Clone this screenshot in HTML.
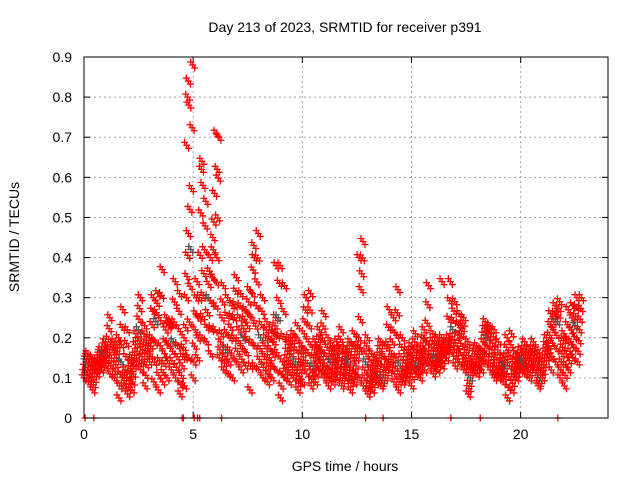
<!DOCTYPE html>
<html><head><meta charset="utf-8"><style>
body{margin:0;background:#fff}
svg{display:block;font-family:"Liberation Sans",Arial,sans-serif}
</style></head><body>
<svg id="chart" width="640" height="480" viewBox="0 0 640 480">
<rect width="640" height="480" fill="#fff"/>
<text x="345" y="32" text-anchor="middle" font-size="14" fill="#000">Day 213 of 2023, SRMTID for receiver p391</text>
<text transform="translate(19,237) rotate(-90)" text-anchor="middle" font-size="14">SRMTID / TECUs</text>
<text x="345" y="471" text-anchor="middle" font-size="14">GPS time / hours</text>
<g id="grid"></g>
<g id="axes"></g>
<g id="marks"></g>
<rect x="84" y="57" width="524" height="361" fill="none" stroke="#000" stroke-width="1"/>
</svg>
<script>
const bucketTimes=[0,0.2,0.4,0.6,0.8,1,1.2,1.4,1.6,1.8,2,2.2,2.4,2.6,2.8,3,3.2,3.4,3.6,3.8,4,4.2,4.4,4.6,4.8,5,5.2,5.4,5.6,5.8,6,6.2,6.4,6.6,6.8,7,7.2,7.4,7.6,7.8,8,8.2,8.4,8.6,8.8,9,9.2,9.4,9.6,9.8,10,10.2,10.4,10.6,10.8,11,11.2,11.4,11.6,11.8,12,12.2,12.4,12.6,12.8,13,13.2,13.4,13.6,13.8,14,14.2,14.4,14.6,14.8,15,15.2,15.4,15.6,15.8,16,16.2,16.4,16.6,16.8,17,17.2,17.4,17.6,17.8,18,18.2,18.4,18.6,18.8,19,19.2,19.4,19.6,19.8,20,20.2,20.4,20.6,20.8,21,21.2,21.4,21.6,21.8,22,22.2,22.4,22.6];
const lowValues=[.10,.09,.07,.11,.12,.13,.11,.10,.05,.08,.06,.07,.14,.12,.08,.14,.09,.07,.09,.10,.12,.10,.06,.08,.15,.10,.15,.20,.19,.16,.22,.15,.12,.11,.10,.14,.12,.13,.07,.13,.12,.10,.09,.10,.12,.05,.10,.09,.10,.07,.09,.11,.08,.09,.12,.10,.08,.09,.10,.08,.10,.07,.09,.10,.08,.06,.07,.09,.08,.10,.12,.09,.07,.09,.10,.08,.11,.10,.12,.13,.11,.12,.13,.15,.17,.13,.14,.12,.06,.12,.11,.12,.14,.12,.10,.10,.09,.05,.07,.10,.12,.11,.10,.12,.08,.10,.15,.12,.14,.10,.08,.12,.15,.14];
const midValues=[.14,.12,.11,.15,.16,.17,.17,.15,.14,.12,.11,.13,.22,.17,.16,.20,.24,.18,.16,.23,.19,.18,.13,.30,.42,.22,.30,.36,.30,.35,.40,.21,.17,.20,.25,.22,.20,.23,.25,.28,.20,.18,.15,.19,.25,.14,.15,.16,.14,.12,.21,.19,.13,.15,.17,.13,.14,.13,.15,.12,.14,.12,.15,.32,.14,.10,.11,.14,.10,.14,.16,.15,.13,.12,.13,.15,.13,.16,.19,.16,.15,.16,.17,.20,.22,.18,.21,.15,.10,.16,.14,.19,.20,.17,.13,.12,.13,.13,.12,.13,.14,.15,.14,.14,.10,.15,.18,.22,.24,.16,.16,.19,.23,.22];
const highValues=[.16,.15,.14,.17,.19,.25,.19,.20,.27,.22,.15,.21,.30,.23,.20,.30,.31,.37,.25,.24,.34,.31,.20,.46,.88,.34,.62,.54,.40,.56,.70,.33,.30,.28,.35,.31,.27,.32,.43,.46,.30,.24,.22,.25,.38,.33,.20,.21,.23,.18,.30,.31,.19,.22,.26,.20,.18,.19,.22,.17,.19,.21,.20,.44,.20,.16,.15,.19,.18,.27,.25,.32,.20,.17,.18,.21,.17,.22,.33,.21,.20,.20,.19,.34,.29,.26,.25,.19,.14,.18,.17,.24,.23,.22,.19,.15,.20,.21,.16,.17,.19,.17,.19,.17,.14,.20,.26,.28,.29,.21,.27,.28,.30,.30];
const spikeTimes=[4.75,4.78,4.8,4.7,5.4,5.45,6.05,6.1,5.9,4.85,12.6,16.4,7.8,8.8];
const spikeValues=[.80,.84,.78,.68,.64,.58,.71,.62,.45,.52,.40,.34,.40,.38];
const zeroTimes=[0.05,0.45,4.5,4.55,5.05,5.2,5.3,6.3,12.9,13.7,16.8,18.15,21.7];
const xTicks=[0,5,10,15,20];
const yTicks=[0,0.1,0.2,0.3,0.4,0.5,0.6,0.7,0.8,0.9];
const yTickLabels=["0","0.1","0.2","0.3","0.4","0.5","0.6","0.7","0.8","0.9"];

const X0=84,X1=608,Y0=418,Y1=57;
function xs(t){return X0+(X1-X0)*t/24;}
function ys(v){return Y0-(Y0-Y1)*v/0.9;}
const NS="http://www.w3.org/2000/svg";
function mk(tag,attrs,parent){const e=document.createElementNS(NS,tag);for(const k in attrs)e.setAttribute(k,attrs[k]);parent.appendChild(e);return e;}
const grid=document.getElementById('grid'),axes=document.getElementById('axes'),marks=document.getElementById('marks');
yTicks.forEach((v,i)=>{
  const y=ys(v);
  if(i>0&&i<yTicks.length-1){const g=mk('line',{x1:X0,x2:X1,y1:y,y2:y,stroke:'#a0a0a0','stroke-dasharray':'2,3'},grid);
  
  }
  mk('line',{x1:X0,x2:X0+6,y1:y,y2:y,stroke:'#000'},axes);
  mk('line',{x1:X1,x2:X1-6,y1:y,y2:y,stroke:'#000'},axes);
  const t=mk('text',{x:X0-12,y:y+5,'text-anchor':'end','font-size':'14'},axes);
  t.textContent=yTickLabels[i];
  
  
});
xTicks.forEach(v=>{
  const x=xs(v);
  if(v>0){const g=mk('line',{x1:x,x2:x,y1:Y0,y2:Y1,stroke:'#a0a0a0','stroke-dasharray':'2,3'},grid);
  
  }
  mk('line',{x1:x,x2:x,y1:Y0,y2:Y0-6,stroke:'#000'},axes);
  mk('line',{x1:x,x2:x,y1:Y1,y2:Y1+6,stroke:'#000'},axes);
  const t=mk('text',{x:x,y:Y0+21,'text-anchor':'middle','font-size':'14'},axes);
  t.textContent=String(v);
  
  
});
function plus(t,v,color){
  const x=xs(t),y=ys(v);
  let d='';
  [[0,0],[2,3],[-2,-3]].forEach(o=>{const cx=x+o[0],cy=y+o[1];d+=`M${cx-3.5},${cy}H${cx+3.5}M${cx},${cy-3.5}V${cy+3.5}`;});
  const p=mk('path',{d:d,stroke:color,'stroke-width':'1.3',fill:'none'},marks);
  
  
}
bucketTimes.forEach((t,i)=>{
  const lo=lowValues[i],md=midValues[i],hi=highValues[i];
  plus(t,lo,'#ff0000');
  plus(t+0.03,lo+(md-lo)*0.33,'#ff0000');
  plus(t+0.06,lo+(md-lo)*0.66,'#ff0000');
  plus(t+0.09,md,i%4==0?'#505050':'#ff0000');
  plus(t+0.12,md+(hi-md)*0.33,'#ff0000');
  plus(t+0.15,md+(hi-md)*0.66,'#ff0000');
  plus(t+0.18,hi,'#ff0000');
});
spikeTimes.forEach((t,i)=>plus(t,spikeValues[i],'#ff0000'));
zeroTimes.forEach(t=>{
  const x=xs(t),y=ys(0);
  const p=mk('path',{d:`M${x-3.5},${y}H${x+3.5}M${x},${y-3.5}V${y+3.5}`,stroke:'#ff0000','stroke-width':'1.3',fill:'none'},marks);
  
  
});
</script>
</body></html>
